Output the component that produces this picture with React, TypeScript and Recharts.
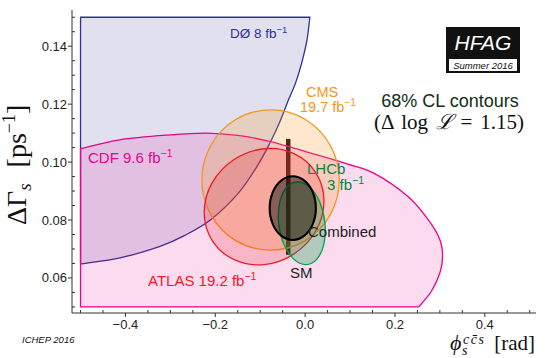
import { ScatterChart, Scatter, XAxis, YAxis, ReferenceLine } from "recharts";

type P = [number, number];

// 68% CL contours as (phi_s [rad], dGamma_s [1/ps]) points
// D0 and CDF are cut by the plot range: arc first, then the corner points
const d0Arc: P[] = [
  [0.0105, 0.15], [0.004, 0.142], [-0.008, 0.134], [-0.022, 0.127],
  [-0.037, 0.1215], [-0.056, 0.114], [-0.077, 0.107], [-0.107, 0.0985],
  [-0.15, 0.089], [-0.211, 0.08], [-0.27, 0.0745], [-0.323, 0.0709],
  [-0.41, 0.067], [-0.5, 0.0648],
];
const d0Corners: P[] = [[-0.5, 0.15]];

const cdfArc: P[] = [
  [-0.5, 0.1046], [-0.413, 0.1077], [-0.3, 0.1094], [-0.22, 0.11],
  [-0.15, 0.1092], [-0.077, 0.1071], [0.013, 0.1031], [0.095, 0.0993],
  [0.154, 0.0961], [0.229, 0.0881], [0.274, 0.0801], [0.3, 0.0732],
  [0.306, 0.0674], [0.3, 0.0617], [0.281, 0.0554], [0.253, 0.05],
];
const cdfCorners: P[] = [[-0.5, 0.05]];

const cmsContour: P[] = [
  [0.076, 0.0938], [0.0555, 0.1059], [-0.0005, 0.1148], [-0.077, 0.118],
  [-0.1535, 0.1148], [-0.2095, 0.1059], [-0.23, 0.0938], [-0.2095, 0.0817],
  [-0.1535, 0.0728], [-0.077, 0.0696], [-0.0005, 0.0728], [0.0555, 0.0817],
];

const atlasContour: P[] = [
  [0.042, 0.0866], [0.024, 0.0963], [-0.0247, 0.1029], [-0.0914, 0.1046],
  [-0.158, 0.1009], [-0.2068, 0.0929], [-0.2247, 0.0826], [-0.2068, 0.0729],
  [-0.158, 0.0663], [-0.0914, 0.0646], [-0.0247, 0.0683], [0.024, 0.0763],
];

const lhcbContour: P[] = [
  [0.0441, 0.0789], [0.0327, 0.0861], [0.0106, 0.0913], [-0.0164, 0.0932],
  [-0.041, 0.0913], [-0.0565, 0.0861], [-0.0589, 0.0789], [-0.0475, 0.0717],
  [-0.0254, 0.0665], [0.0016, 0.0646], [0.0262, 0.0665], [0.0417, 0.0717],
];

const combContour: P[] = [
  [0.024, 0.0841], [0.0171, 0.0896], [-0.0017, 0.0936], [-0.0275, 0.0951],
  [-0.0533, 0.0936], [-0.0721, 0.0896], [-0.079, 0.0841], [-0.0721, 0.0786],
  [-0.0533, 0.0746], [-0.0275, 0.0731], [-0.0017, 0.0746], [0.0171, 0.0786],
];

// Standard Model prediction
const smPhi = -0.0376;
const smDg: [number, number] = [0.068, 0.108];

const xTicks = [-0.5, -0.45, -0.4, -0.35, -0.3, -0.25, -0.2, -0.15, -0.1, -0.05, 0, 0.05, 0.1, 0.15, 0.2, 0.25, 0.3, 0.35, 0.4, 0.45, 0.5];
const yTicks = [0.05, 0.055, 0.06, 0.065, 0.07, 0.075, 0.08, 0.085, 0.09, 0.095, 0.1, 0.105, 0.11, 0.115, 0.12, 0.125, 0.13, 0.135, 0.14, 0.145, 0.15];

const X_DOMAIN: [number, number] = [-0.519, 0.514];
const Y_DOMAIN: [number, number] = [0.0479, 0.1525];

const SANS = "'Liberation Sans', Arial, Helvetica, sans-serif";
const SERIF = "'Liberation Serif', 'DejaVu Serif', serif";
const AXIS = "#333";

const toPts = (arr: P[]) => arr.map(([x, y]) => ({ x, y }));

type Pt = { x: number; y: number };
const seg = (p0: Pt, p1: Pt, p2: Pt, p3: Pt) =>
  `C${p1.x + (p2.x - p0.x) / 6},${p1.y + (p2.y - p0.y) / 6} ${p2.x - (p3.x - p1.x) / 6},${p2.y - (p3.y - p1.y) / 6} ${p2.x},${p2.y}`;

function closedPath(pts: Pt[]) {
  const n = pts.length;
  let d = `M${pts[0].x},${pts[0].y}`;
  for (let i = 0; i < n; i++) {
    d += seg(pts[(i - 1 + n) % n], pts[i], pts[(i + 1) % n], pts[(i + 2) % n]);
  }
  return d + "Z";
}

function edgePath(pts: Pt[], nArc: number) {
  const arc = pts.slice(0, nArc);
  let d = `M${arc[0].x},${arc[0].y}`;
  for (let i = 0; i < nArc - 1; i++) {
    d += seg(arc[Math.max(i - 1, 0)], arc[i], arc[i + 1], arc[Math.min(i + 2, nArc - 1)]);
  }
  for (const p of pts.slice(nArc)) d += `L${p.x},${p.y}`;
  return d + "Z";
}

const isMajor = (v: number, k: number) => Math.abs(v * k - Math.round(v * k)) < 1e-6;
const fmt = (v: number, digits: number) => v.toFixed(digits).replace("-", "\u2212");

function contour(data: P[], color: string, opacity: number, width = 1.3, nArc?: number) {
  return (
    <Scatter
      data={toPts(data)}
      isAnimationActive={false}
      shape={() => <g />}
      line={(p: any) => (
        <path
          d={nArc ? edgePath(p.points, nArc) : closedPath(p.points)}
          fill={color}
          fillOpacity={opacity}
          stroke={color}
          strokeWidth={width}
        />
      )}
    />
  );
}

function Sup({ x, y, text, sup, size, color, anchor = "start" }: any) {
  return (
    <text x={x} y={y} fontSize={size} fill={color} fontFamily={SANS} textAnchor={anchor}>
      {text}
      <tspan dy={-size * 0.4} fontSize={size * 0.7}>{sup}</tspan>
    </text>
  );
}

export default function App() {
  return (
    <div style={{ position: "absolute", left: 0, top: 0, width: 545, height: 358, background: "#fff" }}>
      <ScatterChart width={545} height={358} margin={{ top: 10, right: 9, bottom: 15, left: 10 }}>
        <XAxis
          type="number" dataKey="x" domain={X_DOMAIN} allowDataOverflow ticks={xTicks} interval={0}
          height={30} tickSize={0} tickMargin={0} tickLine={false} stroke={AXIS}
          tick={({ x, y, payload }: any) => {
            const major = isMajor(payload.value, 5);
            return (
              <g>
                <line x1={x} x2={x} y1={y} y2={major ? y + 4 : y - 3} stroke={AXIS} />
                {major && (
                  <text x={x} y={y + 15.5} textAnchor="middle" fontSize={13} fill="#222" fontFamily={SANS}>
                    {fmt(payload.value, 1)}
                  </text>
                )}
              </g>
            );
          }}
        />
        <XAxis
          xAxisId="top" orientation="top" type="number" domain={X_DOMAIN} allowDataOverflow ticks={xTicks} interval={0}
          height={0} tickSize={0} tickMargin={0} tickLine={false} stroke={AXIS}
          tick={({ x, y, payload }: any) => (
            <line x1={x} x2={x} y1={y} y2={y + (isMajor(payload.value, 5) ? 4 : 3)} stroke={AXIS} />
          )}
        />
        <YAxis
          type="number" dataKey="y" domain={Y_DOMAIN} allowDataOverflow ticks={yTicks} interval={0}
          width={62} tickSize={0} tickMargin={0} tickLine={false} stroke={AXIS}
          tick={({ x, y, payload }: any) => {
            const major = isMajor(payload.value, 50);
            return (
              <g>
                <line x1={x} x2={major ? x - 4 : x + 3} y1={y} y2={y} stroke={AXIS} />
                {major && (
                  <text x={x - 5} y={y + 4.5} textAnchor="end" fontSize={13} fill="#222" fontFamily={SANS}>
                    {fmt(payload.value, 2)}
                  </text>
                )}
              </g>
            );
          }}
        />
        <YAxis
          yAxisId="right" orientation="right" type="number" domain={Y_DOMAIN} allowDataOverflow ticks={yTicks} interval={0}
          width={0} tickSize={0} tickMargin={0} tickLine={false} stroke={AXIS}
          tick={({ x, y, payload }: any) => (
            <line x1={x} x2={x - (isMajor(payload.value, 50) ? 4 : 3)} y1={y} y2={y} stroke={AXIS} />
          )}
        />

        {contour([...d0Arc, ...d0Corners], "#2e3192", 0.15, 1.3, d0Arc.length)}
        {contour([...cdfArc, ...cdfCorners], "#ec008c", 0.14, 1.3, cdfArc.length)}
        {contour(cmsContour, "#f7941d", 0.22)}
        {contour(atlasContour, "#ed1c24", 0.2)}
        {contour(lhcbContour, "#00a14b", 0.3)}
        {contour(combContour, "#000000", 0.45, 2)}

        <ReferenceLine
          segment={[{ x: smPhi, y: smDg[0] }, { x: smPhi, y: smDg[1] }]}
          stroke="#111"
          strokeWidth={4.5}
        />
      </ScatterChart>

      <svg width={545} height={358} style={{ position: "absolute", left: 0, top: 0, pointerEvents: "none" }}>
        <Sup x={230} y={38} text={"D\u00d8 8 fb"} sup={"\u22121"} size={13.5} color="#2e3192" />
        <text x={306} y={97} fontSize={14.5} fill="#f7941d" fontFamily={SANS}>CMS</text>
        <Sup x={300} y={112} text="19.7 fb" sup={"\u22121"} size={14.5} color="#f7941d" />
        <Sup x={88} y={163} text="CDF 9.6 fb" sup={"\u22121"} size={15} color="#ec008c" />
        <text x={307} y={174} fontSize={15} fill="#00843d" fontFamily={SANS}>LHCb</text>
        <Sup x={327} y={190} text="3 fb" sup={"\u22121"} size={15} color="#00843d" />
        <text x={308} y={237} fontSize={15} fill="#231f20" fontFamily={SANS}>Combined</text>
        <text x={290} y={278} fontSize={15} fill="#231f20" fontFamily={SANS}>SM</text>
        <Sup x={148} y={286} text="ATLAS 19.2 fb" sup={"\u22121"} size={15} color="#ed1c24" />

        <text x={450} y={107} fontSize={18} fill="#102e12" fontFamily={SANS} textAnchor="middle">68% CL contours</text>
        <text x={449} y={129} fontSize={21} fill="#111" fontFamily={SERIF} textAnchor="middle" wordSpacing={2.5}>
          (Δ log <tspan fontStyle="italic">ℒ</tspan> = 1.15)
        </text>

        <rect x={446} y={27} width={74} height={46} fill="#111" />
        <text x={483} y={50} fontSize={21} fill="#fff" fontStyle="italic" fontFamily={SANS} textAnchor="middle">HFAG</text>
        <rect x={449} y={59} width={68} height={12} fill="#fff" />
        <text x={483} y={68.5} fontSize={9.5} fill="#111" fontStyle="italic" fontFamily={SANS} textAnchor="middle">Summer 2016</text>

        <text x={22} y={343} fontSize={9.5} fill="#111" fontStyle="italic" fontFamily={SANS}>ICHEP 2016</text>

        <g transform="translate(26,225) rotate(-90)">
          <text x={0} y={0} fontSize={28} fill="#111" fontFamily={SERIF}>
            ΔΓ
            <tspan fontStyle="italic" fontSize={19} dy={5}>s</tspan>
            <tspan dx={16} dy={-5}>[ps</tspan>
            <tspan fontSize={18} dy={-11}>{"\u22121"}</tspan>
            <tspan dy={11}>]</tspan>
          </text>
        </g>

        <text x={450} y={350} fontSize={22} fill="#111" fontStyle="italic" fontFamily={SERIF}>{"\u03d5"}</text>
        <text x={462} y={355} fontSize={14} fill="#111" fontStyle="italic" fontFamily={SERIF}>s</text>
        <text x={463} y={343.5} fontSize={14} fill="#111" fontStyle="italic" fontFamily={SERIF} letterSpacing={1.5}>
          {"cc\u0304s"}
        </text>
        <text x={535} y={350} fontSize={21} fill="#111" fontFamily={SERIF} textAnchor="end">[rad]</text>
      </svg>
    </div>
  );
}
